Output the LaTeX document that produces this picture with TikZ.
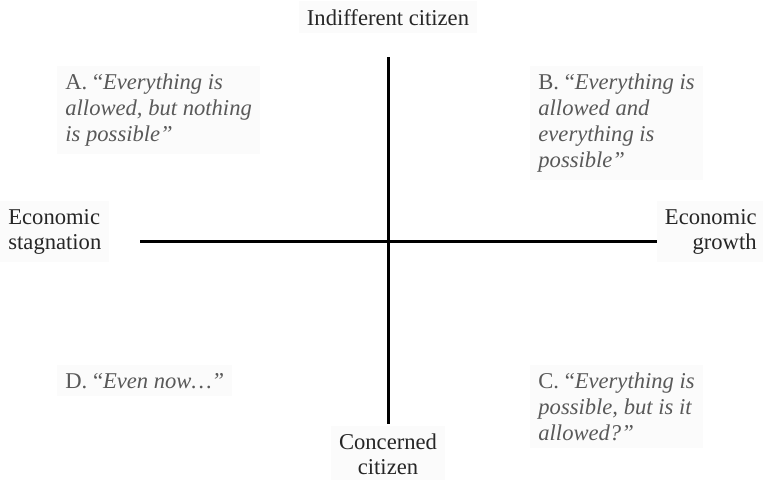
\documentclass[tikz,border=0pt]{standalone}
\usepackage{fontspec}
\setmainfont{Liberation Serif}

\begin{document}
\begin{tikzpicture}[x=0.5pt,y=-0.5pt,
    quad/.style={anchor=base west,align=left,text=black!65,fill=black!1.5,inner sep=4pt,
      font=\fontsize{11.3}{12.9}\selectfont},
    axlabel/.style={text=black!85,fill=black!1.5,inner sep=4pt,
      font=\fontsize{11.3}{12.4}\selectfont}]
      \useasboundingbox (0,0) rectangle (763,479);
      % axes
      \coordinate (west) at (140,241);
      \coordinate (east) at (657,241);
      \coordinate (north) at (388,57);
      \coordinate (south) at (388,424);
      \draw[line width=1.5pt] (west)--(east);
      \draw[line width=1.5pt] (north)--(south);
      % axis labels (base = last line)
      \node[axlabel,anchor=base] (indiff) at (388,25) {Indifferent citizen};
      \node[axlabel,anchor=base,align=center] (concern) at (388,474) {Concerned\\citizen};
      \node[axlabel,anchor=base west,align=left] (stag) at (0,249) {Economic\\stagnation};
      \node[axlabel,anchor=base east,align=right] (growth) at (765,249) {Economic\\growth};
      % quadrants
      \node[quad] (qa) at (57,141) {A. ``\textit{Everything is}\\\textit{allowed, but nothing}\\\textit{is possible''}};
      \node[quad] (qb) at (530,167) {B. ``\textit{Everything is}\\\textit{allowed and}\\\textit{everything is}\\\textit{possible''}};
      \node[quad] (qd) at (57,388) {D. ``\textit{Even now\ldots''}};
      \node[quad] (qc) at (530,440) {C. ``\textit{Everything is}\\\textit{possible, but is it}\\\textit{allowed?''}};
    \end{tikzpicture}
\end{document}
